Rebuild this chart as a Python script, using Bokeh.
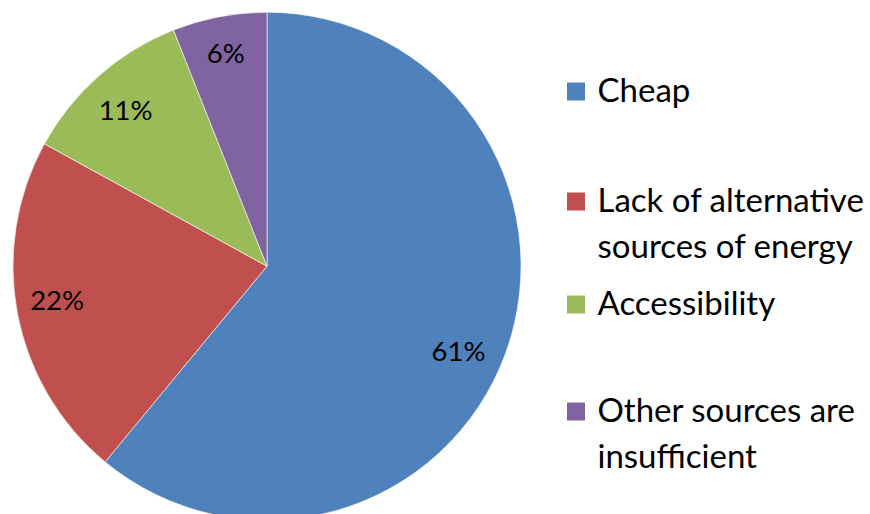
import numpy as np
import pandas as pd
from bokeh.plotting import figure
from bokeh.models import Range1d, ColumnDataSource
from bokeh.core.properties import value
from bokeh.embed import file_html
from bokeh.resources import INLINE

# ---- data ----
categories = ["Cheap", "Lack of alternative\nsources of energy", "Accessibility",
              "Other sources are\ninsufficient"]
shares = [61, 22, 11, 6]
colors = ["#4F81BD", "#C0504D", "#9BBB59", "#8064A2"]
pct_labels = ["61%", "22%", "11%", "6%"]

# ---- layout (page pixel space; data y = H - page_y) ----
W, H = 870, 514
FONT = "Lato"
cx, cy = 266.5, H - 265.7
R = 254
label_r = [0.827, 0.838, 0.824, 0.851]
label_dtheta_deg = [4.5, 1.2, -1.1, -0.2]
legend_baselines = [100, 210, 313, 420]
line_gap = 46.5
sq_x, sq_size = 575.5, 18
tx = 597

p = figure(width=W, height=H, output_backend="svg", toolbar_location=None,
           x_range=Range1d(0, W), y_range=Range1d(0, H),
           min_border=0, outline_line_color=None)
p.axis.visible = False
p.grid.visible = False
p.background_fill_color = "white"
p.border_fill_color = "white"

df = pd.DataFrame({"cat": categories, "v": shares, "color": colors, "lab": pct_labels})
frac = df["v"] / df["v"].sum()
cum_end = frac.cumsum()
cum_start = cum_end - frac
df["start"] = np.pi / 2 - 2 * np.pi * cum_start
df["end"] = np.pi / 2 - 2 * np.pi * cum_end
df["mid"] = np.pi / 2 - 2 * np.pi * (cum_start + frac / 2) - np.radians(label_dtheta_deg)
rl = R * np.array(label_r)
df["lx"] = cx + rl * np.cos(df["mid"])
df["ly"] = cy + rl * np.sin(df["mid"])
df["x"] = cx
df["y"] = cy

src = ColumnDataSource(df)
p.wedge(x="x", y="y", radius=R, start_angle="start", end_angle="end",
        direction="clock", fill_color="color", line_color="white", line_width=0.6,
        source=src)
p.text(x="lx", y="ly", text="lab", source=src, text_font=value(FONT),
       text_font_size="27.5px", text_align="center", text_baseline="middle",
       text_color="black", y_offset=-2)

# legend
lx, ly, lt = [], [], []
sx, sy = [], []
for i, c in enumerate(categories):
    base = H - legend_baselines[i]
    sx.append(sq_x)
    sy.append(base + 9)
    for j, line in enumerate(c.split("\n")):
        lx.append(tx)
        ly.append(base - j * line_gap)
        lt.append(line)
p.rect(x=sx, y=sy, width=sq_size, height=sq_size, fill_color=colors, line_color=None)
p.text(x=lx, y=ly, text=lt, text_font=value(FONT), text_font_size="33px",
       text_align="left", text_baseline="alphabetic", text_color="black",
       y_offset=-12)

open("out.html", "w").write(file_html(p, INLINE))
